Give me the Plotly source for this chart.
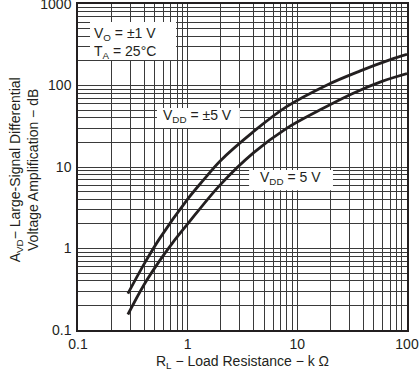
import plotly.graph_objects as go

# Data
rl_pm5 = [0.285, 0.41, 0.56, 0.98, 1.39, 1.97, 3.96, 7.98, 18.5, 37, 69.5, 100]
avd_pm5 = [0.28, 0.68, 1.35, 3.9, 6.9, 11.8, 27, 55, 101, 150, 206, 241]

rl_5 = [0.285, 0.4, 0.56, 0.72, 1.0, 1.97, 4.0, 7.98, 16, 32, 60, 100]
avd_5 = [0.155, 0.36, 0.72, 1.15, 2.0, 6.0, 15, 29.8, 50, 80, 113, 140]

x_decades = [0.1, 1, 10, 100]
x_labels = ["0.1", "1", "10", "100"]
y_decades = [0.1, 1, 10, 100, 1000]
y_labels = ["0.1", "1", "10", "100", "1000"]


def log_ticks(decades, labels):
    vals, texts = [], []
    for i, d in enumerate(decades):
        vals.append(d)
        texts.append(labels[i])
        if i < len(decades) - 1:
            for m in range(2, 10):
                vals.append(d * m)
                texts.append("")
    return vals, texts


xv, xt = log_ticks(x_decades, x_labels)
yv, yt = log_ticks(y_decades, y_labels)

FONT = "Liberation Sans, Arial, sans-serif"
INK = "#231f20"
FS = 14

fig = go.Figure()
fig.add_trace(go.Scatter(x=rl_pm5, y=avd_pm5, mode="lines", line=dict(color=INK, width=2.8, shape="spline"),
                         name="VDD = ±5 V", showlegend=False))
fig.add_trace(go.Scatter(x=rl_5, y=avd_5, mode="lines", line=dict(color=INK, width=2.8, shape="spline"),
                         name="VDD = 5 V", showlegend=False))

fig.update_xaxes(type="log", range=[-1, 2], tickvals=xv, ticktext=xt,
                 showgrid=True, gridcolor="#3a3a3a", gridwidth=1,
                 showline=True, linecolor=INK, linewidth=1.5, mirror=True,
                 ticks="", zeroline=False, ticklabeloverflow="allow",
                 tickfont=dict(family=FONT, size=FS, color=INK),
                 title=dict(text="R<sub>L</sub> − Load Resistance − k Ω",
                            font=dict(family=FONT, size=FS, color=INK), standoff=8))
fig.update_yaxes(type="log", range=[-1, 3], tickvals=yv, ticktext=yt,
                 showgrid=True, gridcolor="#3a3a3a", gridwidth=1,
                 showline=True, linecolor=INK, linewidth=1.5, mirror=True,
                 ticks="", zeroline=False, ticklabelstandoff=2, ticklabeloverflow="allow",
                 tickfont=dict(family=FONT, size=FS, color=INK))

# white label backgrounds (paper coordinates)
for x0, x1, y0, y1 in [(0.0365, 0.298, 0.828, 0.945),
                       (0.240, 0.492, 0.620, 0.681),
                       (0.520, 0.775, 0.429, 0.491)]:
    fig.add_shape(type="rect", xref="paper", yref="paper", x0=x0, x1=x1, y0=y0, y1=y1,
                  fillcolor="white", line=dict(width=0), layer="above")

ann_font = dict(family=FONT, size=FS, color=INK)
fig.add_annotation(xref="paper", yref="paper", x=-0.164, y=0.49, xanchor="center", yanchor="middle",
                   textangle=-90, showarrow=False, font=ann_font,
                   text="A<sub>VD</sub>− Large-Signal Differential<br>Voltage Amplification − dB")
fig.add_annotation(xref="paper", yref="paper", x=0.037, y=0.948, xanchor="left", yanchor="top",
                   showarrow=False, font=ann_font, align="left",
                   borderpad=3,
                   text="V<sub>O</sub> = ±1 V<br>T<sub>A</sub> = 25°C")
fig.add_annotation(xref="paper", yref="paper", x=0.363, y=0.656, xanchor="center", yanchor="middle",
                   showarrow=False, font=ann_font, borderpad=3,
                   text="V<sub>DD</sub> = ±5 V")
fig.add_annotation(xref="paper", yref="paper", x=0.645, y=0.466, xanchor="center", yanchor="middle",
                   showarrow=False, font=ann_font, borderpad=3,
                   text="V<sub>DD</sub> = 5 V")

fig.update_layout(width=419, height=371, margin=dict(l=78, r=12, t=4, b=41, autoexpand=False),
                  paper_bgcolor="white", plot_bgcolor="white", showlegend=False)

fig.write_html("out.html", config={"displayModeBar": False},
               post_script="document.body.style.margin='0';document.body.style.overflow='hidden';")
